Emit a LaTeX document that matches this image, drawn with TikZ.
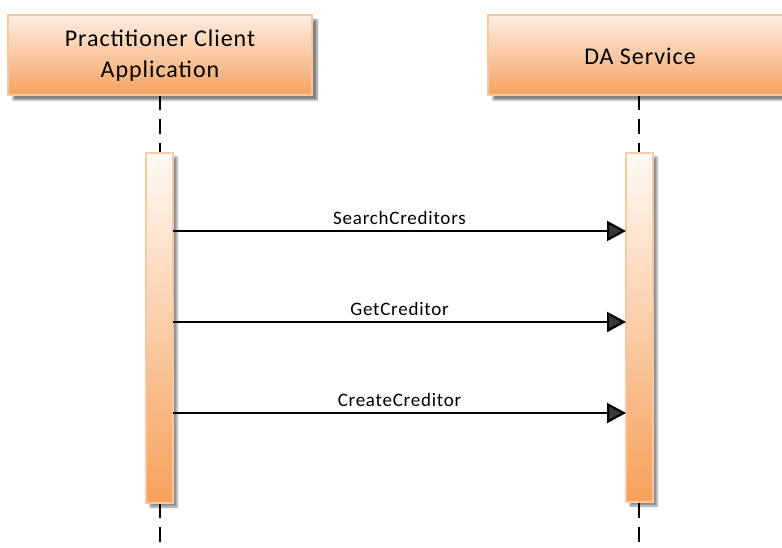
\documentclass[tikz,border=0pt]{standalone}
\usepackage{fontspec}
\setmainfont{Carlito}
\newfontfamily\lblfont[LetterSpace=4]{Carlito}
\usetikzlibrary{arrows.meta,shadows.blur}
\definecolor{boxtop}{HTML}{FDEEE2}
\definecolor{boxbot}{HTML}{F4A261}
\definecolor{boxedge}{HTML}{F9C8A0}
\definecolor{acttop}{HTML}{FFFAF5}
\definecolor{actbot}{HTML}{F6A05A}
\tikzset{
  x=1pt,y=-1pt,
  headbox/.style={draw=boxedge,line width=1.5pt,top color=boxtop,bottom color=boxbot,
    blur shadow={shadow xshift=5pt,shadow yshift=-5pt,shadow blur steps=6,shadow opacity=50}},
  actbox/.style={draw=boxedge,line width=1.5pt,top color=acttop,bottom color=actbot,
    blur shadow={shadow xshift=4pt,shadow yshift=-4pt,shadow blur steps=6,shadow opacity=45}},
  lifeline/.style={line width=2pt,dash pattern=on 15pt off 9pt},
  msg/.style={line width=2.2pt,-{Triangle[length=19pt,width=20pt]}},
  msglabel/.style={font=\lblfont\fontsize{19}{22}\selectfont,above=2pt,anchor=south},
  headtext/.style={font=\lblfont\fontsize{24}{31}\selectfont,align=center}
}
\begin{document}
\begin{tikzpicture}
\useasboundingbox (0,0) rectangle (782,548);
% lifelines
\coordinate (l1top) at (160,95);
\coordinate (l1bot) at (160,548);
\coordinate (l2top) at (639,95);
\coordinate (l2bot) at (639,548);
\draw[lifeline] (l1top) -- (l1bot);
\draw[lifeline] (l2top) -- (l2bot);
% header boxes
\path[headbox] (8,15) rectangle (312,95);
\node[headtext] (h1) at (160,56) {Practitioner Client\\Application};
\path[headbox] (488,15) rectangle (790,95);
\node[headtext] (h2) at (640,56) {DA Service};
% activation bars
\path[actbox] (146,153) rectangle (173,503);
\path[actbox] (626,153) rectangle (653,502);
\coordinate (a1) at (173,231);
\coordinate (b1) at (626,231);
\coordinate (a2) at (173,322);
\coordinate (b2) at (626,322);
\coordinate (a3) at (173,413);
\coordinate (b3) at (626,413);
\draw[msg] (a1) -- node[msglabel] (t1) {SearchCreditors} (b1);
\draw[msg] (a2) -- node[msglabel] (t2) {GetCreditor} (b2);
\draw[msg] (a3) -- node[msglabel] (t3) {CreateCreditor} (b3);
\end{tikzpicture}
\end{document}
